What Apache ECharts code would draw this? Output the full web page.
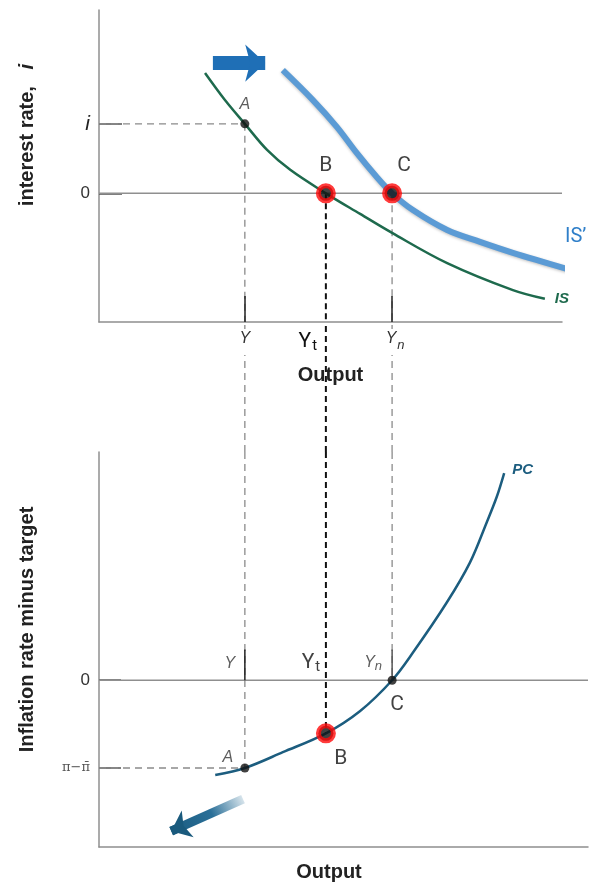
<!DOCTYPE html>
<html><head><meta charset="utf-8">
<script src="https://cdn.jsdelivr.net/npm/echarts@6/dist/echarts.min.js"></script>
<style>html,body{margin:0;padding:0;background:#fff;}#c{width:594px;height:883px;}</style>
</head><body><div id="c"></div>
<script>
// ---- axis ranges (arbitrary units) ----
const topXMax = 100, topYMin = -4, topYMax = 5.7;
const botXMax = 105.6, botYMin = -3.8, botYMax = 5.2;
// ---- key output levels ----
const outputY = 31.5, outputYt = 49.0, outputYn = 63.3;
// ---- key rates ----
const rateI = 2.16;          // interest rate at A
const gapA = -2.0;           // pi - pibar at A
const gapB = -1.21;          // inflation gap at B
// ---- IS curve ----
const isX = [22.9, 27.2, 31.5, 36.3, 41.3, 49.0, 56.4, 63.3, 75.2, 89.4, 96.3];
const isY = [3.74, 2.90, 2.16, 1.35, 0.73, 0, -0.64, -1.23, -2.17, -3.01, -3.28];
// ---- shifted IS' curve ----
const isPX = [39.7, 46.2, 51.4, 55.7, 59.8, 63.3, 67.8, 75.2, 82.3, 89.4, 101.1];
const isPY = [3.83, 2.90, 2.06, 1.25, 0.54, 0, -0.52, -1.14, -1.51, -1.85, -2.35];
// ---- PC curve ----
const pcX = [25.1, 31.5, 39.7, 49.0, 56.4, 63.3, 67.8, 75.1, 80.1, 83.7, 85.9, 87.5];
const pcY = [-2.16, -2.0, -1.64, -1.21, -0.70, 0, 0.63, 1.77, 2.68, 3.59, 4.18, 4.72];
// ---- arrows ----
const shiftArrowX = [24.6, 35.9], shiftArrowY = [4.05, 4.05];
const fallArrowX = [31.1, 17.15, 15.6], fallArrowY = [-2.71, -3.367, -3.44];

const zip = (xs, ys) => xs.map((x, i) => [x, ys[i]]);
const FONT = 'Liberation Sans';
const axisGray = '#8f8f8f', dashGray = '#8a8a8a', RED = '#ff0a0a';

function seg(xi, data, color, width, type, z) {
  return { type: 'line', xAxisIndex: xi, yAxisIndex: xi, data: data, symbol: 'none', silent: true,
    lineStyle: { color: color, width: width, type: type }, z: z || 2, animation: false };
}

const chart = echarts.init(document.getElementById('c'));
const option = {
  animation: false,
  textStyle: { fontFamily: FONT },
  grid: [
    { left: 99, top: 10, width: 463, height: 312 },
    { left: 99, top: 452, width: 489, height: 396 },
    { left: 99, top: 322, width: 463, height: 130 }
  ],
  xAxis: [
    { gridIndex: 0, type: 'value', min: 0, max: topXMax, z: 5,
      axisLine: { show: true, onZero: false, lineStyle: { color: axisGray, width: 1.5 } },
      splitLine: { show: false },
      axisTick: { show: true, inside: true, length: 26, customValues: [outputY, outputYn], lineStyle: { color: '#222', width: 1.5 } },
      axisLabel: { show: true, customValues: [outputY, outputYt, outputYn], margin: 7,
        formatter: v => v === outputY ? '{it|Y}' : (v === outputYt ? '{big|Y}{sub|t}{sp| }' : '{pre| }{it|Y}{subi|n}'),
        rich: {
          it: { fontSize: 16, fontStyle: 'italic', color: '#333', backgroundColor: '#fff', padding: [2, 1, 8, 1] },
          subi: { fontSize: 13, fontStyle: 'italic', color: '#333', backgroundColor: '#fff', padding: [8, 1, 2, 0] },
          big: { fontSize: 21, color: '#111', fontFamily: 'Roboto' },
          sub: { fontSize: 15, color: '#111', fontFamily: 'Roboto', padding: [10, 0, 0, 1] },
          sp: { width: 36 },
          pre: { width: 6 }
        } },
      name: 'Output', nameLocation: 'middle', nameGap: 43,
      nameTextStyle: { fontSize: 20, fontWeight: 'bold', color: '#222' } },
    { gridIndex: 1, type: 'value', min: 0, max: botXMax,
      axisLine: { show: true, onZero: false, lineStyle: { color: axisGray, width: 1.5 } },
      splitLine: { show: false }, axisTick: { show: false }, axisLabel: { show: false },
      name: 'Output', nameLocation: 'middle', nameGap: 15,
      nameTextStyle: { fontSize: 20, fontWeight: 'bold', color: '#222', padding: [0, 29, 0, 0] } },
    { gridIndex: 2, type: 'value', min: 0, max: topXMax, show: false }
  ],
  yAxis: [
    { gridIndex: 0, type: 'value', min: topYMin, max: topYMax,
      axisLine: { show: true, onZero: false, lineStyle: { color: axisGray, width: 1.5 } },
      splitLine: { show: false },
      axisTick: { show: true, inside: true, length: 23, customValues: [rateI, 0], lineStyle: { color: '#555', width: 1.5 } },
      axisLabel: { show: true, customValues: [rateI, 0], margin: 9,
        formatter: v => v === 0 ? '{z|0}' : '{i|i}',
        rich: { z: { fontSize: 17, color: '#333' }, i: { fontSize: 21, fontStyle: 'italic', color: '#222' } } },
      name: 'interest rate,   {ii|i}', nameLocation: 'middle', nameGap: 62,
      nameTextStyle: { fontSize: 20, fontWeight: 'bold', color: '#222', padding: [0, 0, 0, 62],
        rich: { ii: { fontSize: 20, fontStyle: 'italic', color: '#222' } } } },
    { gridIndex: 1, type: 'value', min: botYMin, max: botYMax,
      axisLine: { show: true, onZero: false, lineStyle: { color: axisGray, width: 1.5 } },
      splitLine: { show: false },
      axisTick: { show: true, inside: true, length: 22, customValues: [0, gapA], lineStyle: { color: '#555', width: 1.5 } },
      axisLabel: { show: true, customValues: [0, gapA], margin: 9,
        formatter: v => v === 0 ? '{z|0}' : '{p|π−π̄}',
        rich: { z: { fontSize: 17, color: '#333' }, p: { fontSize: 13, color: '#555', fontFamily: 'DejaVu Serif' } } },
      name: 'Inflation rate minus target', nameLocation: 'middle', nameGap: 62,
      nameTextStyle: { fontSize: 20, fontWeight: 'bold', color: '#222', padding: [0, 0, 0, 40] } },
    { gridIndex: 2, type: 'value', min: 0, max: 1, show: false }
  ],
  series: [
    // ---- top panel guides ----
    seg(0, [[0, 0], [topXMax, 0]], axisGray, 1.5, 'solid'),
    seg(0, [[0, rateI], [outputY, rateI]], dashGray, 1.3, [7, 5]),
    seg(0, [[outputY, rateI], [outputY, topYMin]], dashGray, 1.3, [7, 5]),
    seg(0, [[outputYn, 0], [outputYn, topYMin]], dashGray, 1.3, [7, 5]),
    seg(0, [[outputYt, 0], [outputYt, topYMin]], '#111', 2, [6, 4], 3),
    // ---- connector ----
    seg(2, [[outputY, 0], [outputY, 1]], dashGray, 1.3, [7, 5]),
    seg(2, [[outputYn, 0], [outputYn, 1]], dashGray, 1.3, [7, 5]),
    seg(2, [[outputYt, 0], [outputYt, 1]], '#111', 2, [6, 4], 3),
    // ---- bottom guides ----
    seg(1, [[0, 0], [botXMax, 0]], axisGray, 1.5, 'solid'),
    seg(1, [[0, gapA], [outputY, gapA]], dashGray, 1.3, [7, 5]),
    seg(1, [[outputY, botYMax], [outputY, gapA]], dashGray, 1.3, [7, 5]),
    seg(1, [[outputYn, botYMax], [outputYn, 0]], dashGray, 1.3, [7, 5]),
    seg(1, [[outputYt, botYMax], [outputYt, gapB]], '#111', 2, [6, 4], 3),
    seg(1, [[outputY, 0], [outputY, 0.7]], '#222', 1.5, 'solid', 3),
    seg(1, [[outputYn, 0], [outputYn, 0.7]], '#555', 1.5, 'solid', 3),
    // ---- IS curve ----
    { type: 'line', xAxisIndex: 0, yAxisIndex: 0, data: zip(isX, isY), smooth: 0.35, symbol: 'none',
      lineStyle: { color: '#1e6a4d', width: 2.5 }, z: 3,
      endLabel: { show: true, formatter: 'IS', color: '#1e6a4d', fontStyle: 'italic', fontWeight: 'bold', fontSize: 15, distance: 10 } },
    // ---- IS' curve ----
    { type: 'line', xAxisIndex: 0, yAxisIndex: 0, data: zip(isPX, isPY), smooth: 0.35, symbol: 'none', clip: false,
      lineStyle: { color: '#5b9bd5', width: 6, shadowColor: 'rgba(0,0,0,0.25)', shadowBlur: 3, shadowOffsetY: 1 }, z: 4,
      endLabel: { show: true, formatter: 'IS\u2019', color: '#2f7fc9', fontSize: 20, fontFamily: 'Roboto', offset: [-8, -31] },
      markLine: { silent: true, symbol: ['none', 'none'], label: { show: false },
        data: [[
          { coord: [shiftArrowX[0], shiftArrowY[0]], symbol: 'none', lineStyle: { color: '#1f6fb6', width: 14, type: 'solid', shadowBlur: 0 } },
          { coord: [shiftArrowX[1], shiftArrowY[1]], symbol: 'arrow', symbolSize: [28, 20] }
        ]] } },
    // ---- PC curve ----
    { type: 'line', xAxisIndex: 1, yAxisIndex: 1, data: zip(pcX, pcY), smooth: 0.35, symbol: 'none',
      lineStyle: { color: '#1c5d7f', width: 2.5 }, z: 3,
      endLabel: { show: true, formatter: 'PC', color: '#1c5d7f', fontStyle: 'italic', fontWeight: 'bold', fontSize: 15, distance: 8, offset: [0, -3] },
      markLine: { silent: true, symbol: ['none', 'none'], label: { show: false },
        data: [
          [ { coord: [fallArrowX[0], fallArrowY[0]], symbol: 'none',
              lineStyle: { width: 9, type: 'solid', color: new echarts.graphic.LinearGradient(1, 0, 0, 1, [
                { offset: 0, color: 'rgba(40,110,150,0.05)' }, { offset: 0.45, color: '#2a6f98' }, { offset: 1, color: '#1a5a7d' }]) } },
            { coord: [fallArrowX[2], fallArrowY[2]], symbol: 'none' } ],
          [ { coord: [fallArrowX[1], fallArrowY[1]], symbol: 'none', lineStyle: { width: 9, type: 'solid', color: '#1a5a7d' } },
            { coord: [fallArrowX[2], fallArrowY[2]], symbol: 'arrow', symbolSize: [22, 18] } ]
        ] } },
    // ---- top points ----
    { type: 'scatter', xAxisIndex: 0, yAxisIndex: 0, symbolSize: 9, itemStyle: { color: '#111' }, z: 6,
      data: [{ value: [outputY, rateI], label: { show: true, formatter: 'A', position: 'top', distance: 7, fontStyle: 'italic', fontSize: 16, color: '#333' } }] },
    { type: 'scatter', xAxisIndex: 0, yAxisIndex: 0, symbolSize: 15, itemStyle: { color: '#111', borderColor: RED, borderWidth: 5 }, z: 6,
      data: [
        { value: [outputYt, 0], label: { show: true, formatter: 'B', position: 'top', distance: 7, fontSize: 21, fontFamily: 'Roboto', color: '#111' } },
        { value: [outputYn, 0], label: { show: true, formatter: 'C', position: 'top', distance: 7, offset: [12, 0], fontSize: 21, fontFamily: 'Roboto', color: '#111' } }
      ] },
    // ---- bottom points ----
    { type: 'scatter', xAxisIndex: 1, yAxisIndex: 1, symbolSize: 9, itemStyle: { color: '#111' }, z: 6,
      data: [
        { value: [outputY, gapA], label: { show: true, formatter: 'A', position: 'top', distance: 0, offset: [-17, 2], fontStyle: 'italic', fontSize: 16, color: '#333' } },
        { value: [outputYn, 0], label: { show: true, formatter: 'C', position: 'bottom', distance: 10, offset: [5, 0], fontSize: 21, fontFamily: 'Roboto', color: '#111' } }
      ] },
    { type: 'scatter', xAxisIndex: 1, yAxisIndex: 1, symbolSize: 15, itemStyle: { color: '#111', borderColor: RED, borderWidth: 5 }, z: 6,
      data: [{ value: [outputYt, gapB], label: { show: true, formatter: 'B', position: 'bottom', distance: 5, offset: [15, 0], fontSize: 21, fontFamily: 'Roboto', color: '#111' } }] },
    // ---- bottom output labels on the zero line ----
    { type: 'scatter', xAxisIndex: 1, yAxisIndex: 1, symbolSize: 0, z: 6, silent: true,
      data: [
        { value: [outputY, 0], label: { show: true, formatter: 'Y', position: 'top', distance: 9, offset: [-15, 0], fontStyle: 'italic', fontSize: 16, color: '#333' } },
        { value: [outputYt, 0], label: { show: true, formatter: '{big|Y}{sub|t}', position: 'top', distance: 5, offset: [-15, 0],
            rich: { big: { fontSize: 21, color: '#111', fontFamily: 'Roboto' }, sub: { fontSize: 15, color: '#111', fontFamily: 'Roboto', padding: [10, 0, 0, 1] } } } },
        { value: [outputYn, 0], label: { show: true, formatter: '{it|Y}{subi|n}', position: 'top', distance: 7, offset: [-19, 0],
            rich: { it: { fontSize: 16, fontStyle: 'italic', color: '#333' }, subi: { fontSize: 13, fontStyle: 'italic', color: '#333', padding: [8, 0, 0, 0] } } } }
      ] }
  ]
};
chart.setOption(option);
</script></body></html>
